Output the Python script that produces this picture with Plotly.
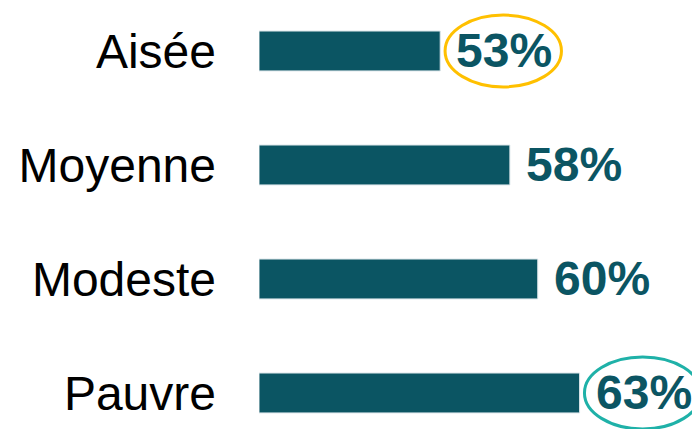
import plotly.graph_objects as go

categories = ["Aisée", "Moyenne", "Modeste", "Pauvre"]
values = [53, 58, 60, 63]
labels = ["53%", "58%", "60%", "63%"]
highlight = {"Aisée": "#FFC000", "Pauvre": "#1FB1A8"}

bar_color = "#0B5563"
base = 40

fig = go.Figure()
fig.add_trace(go.Bar(
    x=[v - base for v in values],
    base=base,
    y=list(range(len(categories))),
    orientation="h",
    width=0.35,
    marker=dict(color=bar_color, line=dict(color="#DCE6EA", width=1)),
    hoverinfo="skip",
))

for i, (c, v, t) in enumerate(zip(categories, values, labels)):
    fig.add_annotation(x=v, y=i, xref="x", yref="y", text="<b>" + t + "</b>",
                       showarrow=False, xanchor="left", yanchor="middle", xshift=14,
                       font=dict(family="Liberation Sans, Arial", size=48, color=bar_color))
    if c in highlight:
        fig.add_shape(type="circle", xref="x", yref="y",
                      x0=v + 0.35, x1=v + 8.7, y0=i - 0.315, y1=i + 0.315,
                      line=dict(color=highlight[c], width=3), layer="above")

fig.update_layout(
    width=692, height=421,
    margin=dict(l=251, r=0, t=0, b=0),
    paper_bgcolor="white", plot_bgcolor="white",
    showlegend=False,
    xaxis=dict(range=[40, 71.64], visible=False, fixedrange=True),
    yaxis=dict(range=[3.316, -0.377], tickvals=list(range(len(categories))),
               ticktext=categories, showgrid=False, zeroline=False, showline=False,
               ticks="", ticklabelstandoff=42,
               tickfont=dict(family="Liberation Sans, Arial", size=48, color="black")),
)

fig.write_html("out.html")
